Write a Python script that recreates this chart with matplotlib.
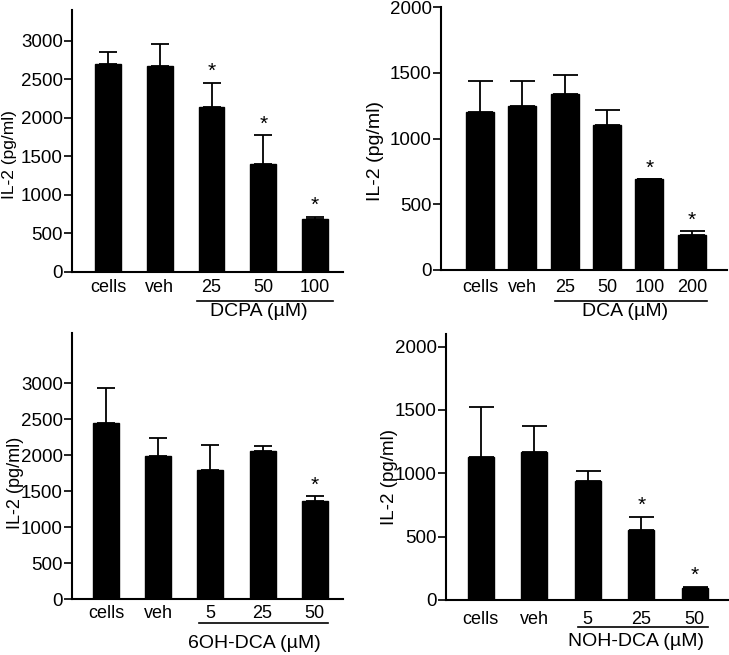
import matplotlib
matplotlib.use("Agg")
import matplotlib.pyplot as plt
from matplotlib.transforms import blended_transform_factory
import numpy as np

plt.rcParams['font.family'] = ['Liberation Sans', 'DejaVu Sans']

W, H = 729, 655

# ---------------- data ----------------
p1_labels = ["cells", "veh", "25", "50", "100"]
p1_vals = [2697, 2667, 2143, 1398, 693]
p1_errtop = [2853, 2961, 2459, 1775, 719]
p1_star = [False, False, True, True, True]
p1_group = "DCPA (\u00b5M)"

p2_labels = ["cells", "veh", "25", "50", "100", "200"]
p2_vals = [1204, 1247, 1336, 1106, 689, 265]
p2_errtop = [1437, 1434, 1480, 1217, 694, 295]
p2_star = [False, False, False, False, True, True]
p2_group = "DCA (\u00b5M)"

p3_labels = ["cells", "veh", "5", "25", "50"]
p3_vals = [2447, 1995, 1793, 2060, 1364]
p3_errtop = [2931, 2235, 2147, 2124, 1433]
p3_star = [False, False, False, False, True]
p3_group = "6OH-DCA (\u00b5M)"

p4_labels = ["cells", "veh", "5", "25", "50"]
p4_vals = [1129, 1166, 937, 555, 92]
p4_errtop = [1521, 1376, 1016, 658, 105]
p4_star = [False, False, False, True, True]
p4_group = "NOH-DCA (\u00b5M)"

fig = plt.figure(figsize=(W / 100, H / 100), dpi=100)


def add_ax(left, right, top, bottom):
    return fig.add_axes([left / W, 1 - bottom / H, (right - left) / W, (bottom - top) / H])


def panel(box, labels, vals, errtop, stars, group, ylim, yticks, xlim, width,
          capsize, tick_y, br_x, br_y, grp_xy, ylab_xy, ylab_size):
    ax = add_ax(*box)
    x = np.arange(len(vals))
    ax.bar(x, vals, width=width, color='black', edgecolor='black', zorder=2)
    lower = np.zeros(len(vals))
    upper = np.array(errtop) - np.array(vals)
    ax.errorbar(x, vals, yerr=[lower, upper], fmt='none', ecolor='black',
                elinewidth=1.3, capsize=capsize, capthick=1.3, zorder=1)
    for xi, e, s in zip(x, errtop, stars):
        if s:
            ax.annotate('*', (xi, e), xytext=(0, 1), textcoords='offset points',
                        ha='center', va='bottom', fontsize=15)
    ax.set_xlim(*xlim)
    ax.set_ylim(*ylim)
    ax.set_yticks(yticks)
    ax.tick_params(axis='y', labelsize=13.5, length=5.5, width=1.2,
                   direction='out', pad=1)
    ax.set_xticks([])
    for sp in ['top', 'right']:
        ax.spines[sp].set_visible(False)
    for sp in ['left', 'bottom']:
        ax.spines[sp].set_linewidth(1.5)
    ax.set_ylabel("IL-2 (pg/ml)", fontsize=ylab_size, va='center')
    ax.yaxis.set_label_coords(ylab_xy[0] / W, 1 - ylab_xy[1] / H,
                              transform=fig.transFigure)
    tr = blended_transform_factory(ax.transData, fig.transFigure)
    for xi, lab in zip(x, labels):
        ax.text(xi, 1 - tick_y / H, lab, transform=tr, ha='center', va='center',
                fontsize=13)
    ax.plot(br_x, [1 - br_y / H] * 2, transform=tr, color='black', lw=1.2,
            clip_on=False)
    fig.text(grp_xy[0] / W, 1 - grp_xy[1] / H, group, ha='center', va='center',
             fontsize=14)
    return ax


panel((72, 343, 10, 272), p1_labels, p1_vals, p1_errtop, p1_star, p1_group,
      (0, 3400), [0, 500, 1000, 1500, 2000, 2500, 3000], (-0.696, 4.54), 0.5,
      6.8, 288, (1.72, 4.35), 301, (259, 311), (10, 155), 12.5)

panel((441, 727, 7, 270), p2_labels, p2_vals, p2_errtop, p2_star, p2_group,
      (0, 2000), [0, 500, 1000, 1500, 2000], (-0.92, 5.83), 0.66,
      9.0, 288, (1.77, 5.35), 301, (625, 311), (375, 151), 14)

panel((72, 343, 333, 599), p3_labels, p3_vals, p3_errtop, p3_star, p3_group,
      (0, 3700), [0, 500, 1000, 1500, 2000, 2500, 3000], (-0.65, 4.54), 0.5,
      6.6, 613, (1.78, 4.25), 623, (254, 643), (16, 483), 13)

panel((446, 728, 334, 600), p4_labels, p4_vals, p4_errtop, p4_star, p4_group,
      (0, 2100), [0, 500, 1000, 1500, 2000], (-0.65, 4.62), 0.49,
      9.0, 619, (1.81, 4.24), 627, (636, 642), (390, 477), 13.5)

fig.savefig("out.png", dpi=100)
